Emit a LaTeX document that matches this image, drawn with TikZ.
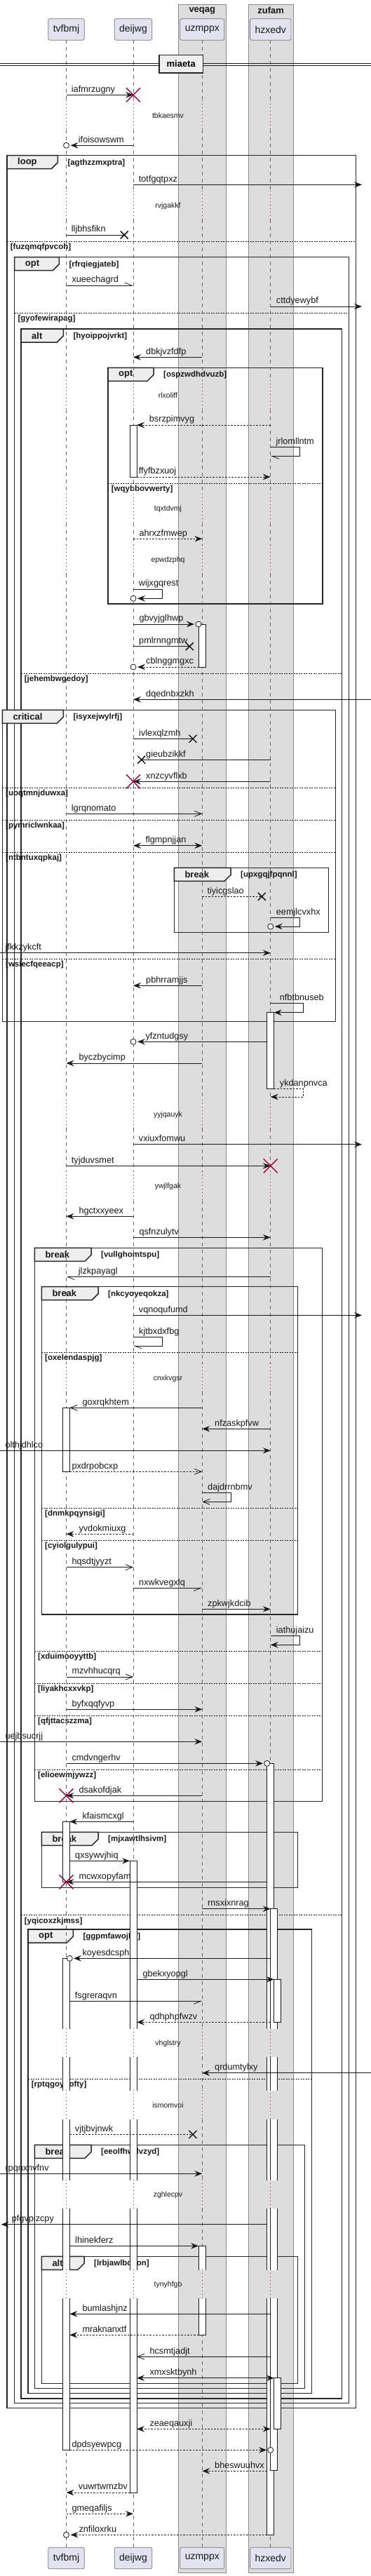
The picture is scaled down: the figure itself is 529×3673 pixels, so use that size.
\documentclass[tikz,border=0pt]{standalone}
\usepackage{fontspec}
\setmainfont{Liberation Sans}
\usepackage{xcolor}
\usetikzlibrary{arrows.meta}

\definecolor{ink}{HTML}{181818}
\definecolor{partfill}{HTML}{E2E2F0}
\definecolor{boxfill}{HTML}{DDDDDD}
\definecolor{tabfill}{HTML}{EEEEEE}
\definecolor{crimson}{HTML}{A80036}

\def\Tx{94.5}\def\Dx{190}\def\Ux{288.3}\def\Hx{385.7}

\newcommand\sdmsg[6]{\draw[msg,#1] (#2,#4) -- (#3,#4);
  \node[lbl] (#6) at (#5,#4-4.3) {#6};}
\newcommand\sdself[8]{\draw[msg,#1] (#2,#3) -| (#4,#5) -- (#6,#5);
  \node[lbl] (#8) at (#7,#3-4.3) {#8};}
\newcommand\sdframe[8]{\draw[frame] (#1,#2) rectangle (#3,#4);
  \draw[frame,fill=tabfill] (#1,#2) -- (#6,#2) -- (#6,#2+10) -- (#6-9,#2+19) -- (#1,#2+19) -- cycle;
  \node[kw] (#8) at (#1+15,#2+9.5) {#5};
  \node[grd] (#8g) at (#6+14,#2+10.5) {#7};}
\newcommand\sdelse[5]{\draw[divider] (#1,#3) -- (#2,#3);
  \node[grd] (#5) at (#1+4.7,#3+8.3) {#4};}
\newcommand\sdbar[3]{\draw[actbar] (#1,#2) rectangle (#1+10,#3);}
\newcommand\killx[2]{\draw[crimson,line width=1.4pt] (#1-10,#2-10) -- (#1+10,#2+10) (#1-10,#2+10) -- (#1+10,#2-10);}
\newcommand\lostx[2]{\draw[ink,line width=1.5pt] (#1-5.5,#2-5.5) -- ++(11,11) (#1-5.5,#2+5.5) -- ++(11,-11);}
\newcommand\ringend[2]{\draw[ink,fill=white,line width=0.8pt] (#1,#2) circle (4pt);}

\begin{document}
\begin{tikzpicture}[x=1pt,y=-1pt,
  part/.style={draw=black!55,fill=partfill,rounded corners=2.5pt,line width=0.7pt,
    minimum height=30.6pt,inner xsep=7pt,font=\fontsize{14}{16}\selectfont,text=ink},
  boxttl/.style={font=\bfseries\fontsize{13}{15}\selectfont,inner sep=0,text=ink},
  lifeline/.style={draw=black!60,line width=0.7pt,dash pattern=on 5pt off 5pt},
  delayline/.style={draw=crimson,line width=0.8pt,dash pattern=on 1pt off 4pt},
  frame/.style={draw=black!85,line width=1.5pt},
  divider/.style={draw=ink,line width=0.7pt,dash pattern=on 2pt off 1.5pt},
  kw/.style={font=\bfseries\fontsize{13}{15}\selectfont,inner sep=0,anchor=west,text=ink},
  grd/.style={font=\bfseries\fontsize{11.5}{13}\selectfont,inner sep=0,anchor=west,text=ink},
  lbl/.style={font=\fontsize{12.7}{14}\selectfont,inner sep=0,anchor=base west,text=ink},
  dly/.style={font=\fontsize{10.5}{12}\selectfont,inner sep=0,text=ink},
  actbar/.style={draw=ink,fill=white,line width=0.8pt},
  msg/.style={draw=ink,line width=0.8pt},
  dashmsg/.style={dash pattern=on 2.5pt off 2pt},
  sync/.style={-{Stealth[length=11pt,width=8.5pt,inset=4pt]}},
  both/.style={{Stealth[length=11pt,width=8.5pt,inset=4pt]}-{Stealth[length=11pt,width=8.5pt,inset=4pt]}},
  barb/.style={-{Straight Barb[length=10pt,width=8pt]}},
  halfl/.style={-{Straight Barb[length=10pt,width=8pt,left]}},
  halfr/.style={-{Straight Barb[length=10pt,width=8pt,right]}}]

\useasboundingbox (0,0) rectangle (529,3673);
\fill[white] (0,0) rectangle (529,3673);

% boxes
\filldraw[fill=boxfill,draw=black!45,line width=0.8pt] (254.3,6) rectangle (322.3,3668.3);
\filldraw[fill=boxfill,draw=black!45,line width=0.8pt] (354,6) rectangle (418.3,3668.3);
\node[boxttl] (veqag) at (288.3,15) {veqag};
\node[boxttl] (zufam) at (386.2,15) {zufam};

\node[part] (tvfbmj) at (\Tx,42) {tvfbmj};
\node[part] (deijwg) at (\Dx,42) {deijwg};
\node[part] (uzmppx) at (\Ux,42) {uzmppx};
\node[part] (hzxedv) at (\Hx,42) {hzxedv};
\node[part] (tvfbmjB) at (\Tx,3647.5) {tvfbmj};
\node[part] (deijwgB) at (\Dx,3647.5) {deijwg};
\node[part] (uzmppxB) at (\Ux,3647.5) {uzmppx};
\node[part] (hzxedvB) at (\Hx,3647.5) {hzxedv};

% groups
\sdframe{10}{221.7}{507.7}{3433.7}{loop}{82.3}{[agthzzmxptra]}{floop}
\sdelse{10}{507.7}{344}{[fuzqmqfpvcoh]}{eloop}
\sdframe{20.7}{366.7}{497.7}{3426.7}{opt}{84.3}{[rfrqiegjateb]}{fopt}
\sdelse{20.7}{497.7}{446}{[gyofewirapag]}{eopt}
\sdframe{30}{469}{487.7}{3420}{alt}{90.3}{[hyoippojvrkt]}{falt}
\sdelse{30}{487.7}{960.7}{[jehembwgedoy]}{ealtA}
\sdelse{30}{487.7}{2730.7}{[yqicoxzkjmss]}{ealtB}
\sdframe{154}{524.3}{460}{861}{opt}{219}{[ospzwdhdvuzb]}{foptB}
\sdelse{154}{460}{689.3}{[wqybbovwerty]}{eoptB}
\sdframe{3.3}{1012.3}{478.3}{1456.7}{critical}{90.3}{[isyxejwylrfj]}{fcrit}
\sdelse{3.3}{478.3}{1123.3}{[uoqtmnjduwxa]}{ecritA}
\sdelse{3.3}{478.3}{1169}{[pymriclwnkaa]}{ecritB}
\sdelse{3.3}{478.3}{1215.3}{[ntbntuxqpkaj]}{ecritC}
\sdelse{3.3}{478.3}{1367.3}{[wsiecfqeeacp]}{ecritD}
\sdframe{248.3}{1237.3}{468.3}{1329.3}{break}{329}{[upxgqjfpqnnl]}{fbrkA}
\sdframe{49.3}{1779.3}{459.3}{2568.3}{break}{130}{[vullghomtspu]}{fbrkB}
\sdelse{49.3}{459.3}{2354.3}{[xduimooyyttb]}{ebrkB}
\sdelse{49.3}{459.3}{2400.3}{[liyakhcxxvkp]}{ebrkC}
\sdelse{49.3}{459.3}{2446.3}{[qfjttacszzma]}{ebrkD}
\sdelse{49.3}{459.3}{2523.3}{[elioewmjywzz]}{ebrkE}
\sdframe{59.3}{1834.7}{424.3}{2302}{break}{140}{[nkcyoyeqokza]}{fbrkC}
\sdelse{59.3}{424.3}{1928}{[oxelendaspjg]}{ebrkF}
\sdelse{59.3}{424.3}{2150.3}{[dnmkpqynsigi]}{ebrkG}
\sdelse{59.3}{424.3}{2196.3}{[cyiolgulypui]}{ebrkH}
\sdframe{59.3}{2612.3}{424.3}{2691.7}{break}{140}{[mjxawtlhsivm]}{fbrkD}
\sdframe{40}{2751}{444.3}{3412.3}{opt}{104.3}{[ggpmfawojlef]}{foptC}
\sdelse{40}{444.3}{2964.3}{[rptqgoyqofty]}{eoptC}
\sdframe{49.3}{3058.3}{434.3}{3405.7}{break}{130}{[eeolfhwdvzyd]}{fbrkE}
\sdframe{59.3}{3217.3}{424.3}{3398.3}{alt}{120}{[lrbjawlbcqon]}{faltB}

% lifelines
\foreach \p in {tvfbmj,deijwg,uzmppx,hzxedv}{
  \foreach \a/\b in {57.3/143.3,185/271.7,313.3/542.3,584/704.3,746/776.7,818.3/1567.7,
      1609.3/1670,1711.7/1943.7,1985.3/2891.7,2933.3/2980,3021.7/3107.7,3149.3/3235.7,3277.3/3631.7}{
    \draw[lifeline] (\p |- 0,\a) -- (\p |- 0,\b);
  }
}

% divider
\draw[ink,line width=0.9pt] (0,90.7) -- (529,90.7) (0,93.3) -- (529,93.3);
\node[draw=black!85,line width=1.5pt,fill=tabfill,minimum width=62.3pt,minimum height=25.7pt,
  inner sep=0,font=\bfseries\fontsize{13}{15}\selectfont] (miaeta) at (258.2,91.2) {miaeta};

% activations
\sdbar{185}{606}{680}
\sdbar{283}{890}{951.7}
\sdbar{380.7}{1443.7}{1552.3}
\sdbar{89.3}{2007.3}{2098.3}
\sdbar{380.7}{2514.3}{3614.3}
\sdbar{89.3}{2597.3}{2683.3}
\sdbar{185}{2653.3}{3554}
\sdbar{385.7}{2721.7}{3522.7}
\sdbar{89.3}{2792.3}{3493.3}
\sdbar{390.7}{2822.3}{2883.3}
\sdbar{283}{3202.3}{3329.3}
\sdbar{390.7}{3390.7}{3463.3}

\foreach \a/\b in {2891.7/2933.3,2980/3021.7,3107.7/3149.3,3235.7/3277.3}{
  \fill[white] (88.5,\a+0.8) rectangle (100.1,\b);
  \fill[white] (184.2,\a+0.8) rectangle (195.8,\b);
  \fill[boxfill] (379.9,\a+0.8) rectangle (396.5,\b);
}
\fill[boxfill] (282.2,3236.5) rectangle (293.5,3277.3);

\foreach \p in {tvfbmj,deijwg,uzmppx,hzxedv}{
  \foreach \a/\b in {143.3/185,271.7/313.3,542.3/584,704.3/746,776.7/818.3,1567.7/1609.3,
      1670/1711.7,1943.7/1985.3,2891.7/2933.3,2980/3021.7,3107.7/3149.3,3235.7/3277.3}{
    \draw[delayline] (\p |- 0,\a) -- (\p |- 0,\b);
  }
}

% messages
\sdmsg{sync}{\Tx}{\Dx}{135.3}{101.7}{iafmrzugny}
\killx{\Dx}{135.3}
\sdmsg{sync}{\Dx}{\Tx+6}{207.3}{111.7}{ifoisowswm}
\ringend{\Tx}{207.3}
\sdmsg{sync}{\Dx}{516}{263.3}{197.7}{totfgqtpxz}
\sdmsg{}{\Tx}{177.3}{335}{101.7}{lljbhsfikn}
\lostx{177.3}{335}
\sdmsg{halfl}{\Tx}{\Dx}{407}{102.3}{xueechagrd}
\sdmsg{sync}{\Hx}{516}{437}{393.7}{cttdyewybf}
\sdmsg{sync}{\Ux}{\Dx}{509.3}{208}{dbkjvzfdfp}
\sdmsg{sync,dashmsg}{\Hx}{195}{606}{212.7}{bsrzpimvyg}
\sdself{halfl}{\Hx}{637.3}{427}{650.3}{\Hx}{393.3}{jrlomllntm}
\sdmsg{sync,dashmsg}{195}{\Hx}{680}{197.7}{ffyfbzxuoj}
\sdmsg{sync,dashmsg}{\Dx}{\Ux}{768.3}{198.3}{ahrxzfmwep}
\sdself{sync}{\Dx}{840}{231.7}{853.3}{\Dx+6}{197.7}{wijxgqrest}
\ringend{\Dx}{853.3}
\sdmsg{sync}{\Dx}{277}{890}{198.3}{gbvyjglhwp}
\ringend{283}{890}
\sdmsg{}{\Dx}{270.3}{921.7}{198}{pmlrnngmtw}
\lostx{270.3}{921.7}
\sdmsg{sync,dashmsg}{283}{\Dx+6}{951}{208}{cblnggmgxc}
\ringend{\Dx}{951}
\sdmsg{sync}{529}{\Dx}{997.3}{208}{dqednbxzkh}
\sdmsg{}{\Dx}{275}{1053.3}{198}{ivlexqlzmh}
\lostx{275}{1053.3}
\sdmsg{}{\Hx}{201.7}{1083.3}{208}{gieubzikkf}
\lostx{201.7}{1083.3}
\sdmsg{sync}{\Hx}{\Dx}{1114.3}{208}{xnzcyvflxb}
\killx{\Dx}{1114.3}
\sdmsg{barb}{\Tx}{\Ux}{1160.3}{101.7}{lgrqnomato}
\sdmsg{both}{\Dx}{\Ux}{1205.7}{207.3}{flgmpnjjan}
\sdmsg{dashmsg}{\Ux}{373.3}{1278.3}{295.3}{tiyicgslao}
\lostx{373.3}{1278.3}
\sdself{sync}{\Hx}{1308.7}{427}{1321}{\Hx+6}{393.7}{eemjlcvxhx}
\ringend{\Hx}{1321}
\sdmsg{sync}{0}{\Hx}{1358.7}{7.3}{jfkkzykcft}
\sdmsg{sync}{\Ux}{\Dx}{1405.3}{208}{pbhrramjjs}
\sdself{sync}{\Hx}{1430.3}{432.3}{1443.7}{390.7}{398.7}{nfbtbnuseb}
\sdmsg{sync}{380.7}{\Dx+6}{1485.3}{207.3}{yfzntudgsy}
\ringend{\Dx}{1485.3}
\sdmsg{sync}{\Ux}{\Tx}{1516}{112.3}{byczbycimp}
\sdself{sync,dashmsg}{390.7}{1552.3}{432.3}{1564}{\Hx}{398.7}{ykdanpnvca}
\sdmsg{sync}{\Dx}{516}{1631.7}{197.7}{vxiuxfomwu}
\sdmsg{sync}{\Tx}{\Hx}{1662.3}{101.7}{tyjduvsmet}
\killx{\Hx}{1662.3}
\sdmsg{sync}{\Dx}{\Tx}{1734.3}{112.3}{hgctxxyeex}
\sdmsg{sync}{\Dx}{\Hx}{1764.3}{198.3}{qsfnzulytv}
\sdmsg{halfl}{\Hx}{\Tx}{1820.7}{111.7}{jlzkpayagl}
\sdmsg{sync}{\Dx}{516}{1875.3}{197.7}{vqnoqufumd}
\sdself{halfl}{\Dx}{1906.7}{231.7}{1919}{\Dx}{198}{kjtbxdxfbg}
\sdmsg{barb}{\Ux}{99.3}{2007.3}{117.3}{goxrqkhtem}
\sdmsg{sync}{\Hx}{\Ux}{2037.3}{306}{nfzaskpfvw}
\sdmsg{sync}{0}{\Hx}{2068.3}{7.3}{olthjdhlco}
\sdmsg{barb,dashmsg}{99.3}{\Ux}{2098.3}{102.3}{pxdrpobcxp}
\sdself{barb}{\Ux}{2128.3}{329.3}{2141.3}{\Ux}{296}{dajdrrnbmv}
\sdmsg{sync,dashmsg}{\Dx}{\Tx}{2187.3}{112.3}{yvdokmiuxg}
\sdmsg{barb}{\Tx}{\Dx}{2234.7}{102.3}{hqsdtjyyzt}
\sdmsg{halfr}{\Dx}{\Ux}{2264.3}{198}{nxwkvegxlq}
\sdmsg{sync}{\Ux}{\Hx}{2294.3}{296}{zpkwjkdcib}
\sdself{sync}{\Hx}{2332.3}{427}{2345.3}{\Hx}{393.7}{iathujaizu}
\sdmsg{barb}{\Tx}{\Dx}{2391}{102.3}{mzvhhucqrq}
\sdmsg{sync}{\Tx}{\Ux}{2437.3}{102.3}{byfxqqfyvp}
\sdmsg{sync}{0}{\Ux}{2483.3}{7.3}{uejbsucrjj}
\sdmsg{sync}{\Tx}{375}{2514.3}{102.3}{cmdvngerhv}
\ringend{380.7}{2514.3}
\sdmsg{sync}{\Ux}{\Tx}{2560.3}{112.3}{dsakofdjak}
\killx{\Tx}{2560.3}
\sdmsg{sync}{\Dx}{99.3}{2597.3}{117.3}{kfaismcxgl}
\sdmsg{sync}{99.3}{185}{2653.3}{107}{qxsywvjhiq}
\sdmsg{sync}{380.7}{\Tx}{2683.3}{112.3}{mcwxopyfam}
\killx{\Tx}{2683.3}
\sdmsg{sync}{\Ux}{385.7}{2721.7}{296}{rnsxixnrag}
\sdmsg{sync}{385.7}{105}{2792.3}{117.3}{koyesdcsph}
\ringend{99.3}{2792.3}
\sdmsg{sync}{195}{390.7}{2822.3}{203.3}{gbekxyopgl}
\sdmsg{halfr}{99.3}{\Ux}{2853.3}{106.7}{fsgreraqvn}
\sdmsg{sync,dashmsg}{385.7}{195}{2883.3}{213.3}{qdhphpfwzv}
\sdmsg{sync}{529}{\Ux}{2955.7}{306}{qrdumtylxy}
\sdmsg{dashmsg}{99.3}{275}{3043.3}{106.7}{vjtjbvjnwk}
\lostx{275}{3043.3}
\sdmsg{sync}{0}{\Ux}{3099.3}{7.3}{rpqnxnvfnv}
\sdmsg{sync}{380.7}{1.7}{3171.7}{16.7}{pfgvpizcpy}
\sdmsg{sync}{99.3}{283}{3202.3}{107}{lhinekferz}
\sdmsg{sync}{385.7}{99.3}{3299.3}{117.3}{bumlashjnz}
\sdmsg{sync,dashmsg}{283}{99.3}{3329.3}{117.3}{mraknanxtf}
\sdmsg{barb}{385.7}{195}{3360.3}{213.3}{hcsmtjadjt}
\sdmsg{both}{195}{390.7}{3390.7}{213.3}{xmxsktbynh}
\sdmsg{both,dashmsg}{195}{385.7}{3463.3}{213.3}{zeaeqauxji}
\sdmsg{sync,dashmsg}{99.3}{380}{3493.3}{102.3}{dpdsyewpcg}
\ringend{\Hx}{3493.3}
\sdmsg{sync,dashmsg}{380.7}{\Ux}{3523.3}{306}{bheswuuhvx}
\sdmsg{sync,dashmsg}{185}{\Tx}{3554}{111.7}{vuwrtwmzbv}
\sdmsg{sync,dashmsg}{\Tx}{\Dx}{3584.3}{102.3}{gmeqafiljs}
\sdmsg{sync,dashmsg}{380.7}{\Tx+6}{3614.3}{112.3}{znfiloxrku}
\ringend{\Tx}{3614.3}

% delays
\node[dly] (tbkaesmv) at (239.5,165) {tbkaesmv};
\node[dly] (rvjgakkf) at (239.5,293.3) {rvjgakkf};
\node[dly] (rlxoliff) at (239.5,564) {rlxoliff};
\node[dly] (tqxtdvmj) at (239.5,726) {tqxtdvmj};
\node[dly] (epwdzphq) at (239.5,798.3) {epwdzphq};
\node[dly] (yyjqauyk) at (239.5,1589.3) {yyjqauyk};
\node[dly] (ywjlfgak) at (239.5,1691.7) {ywjlfgak};
\node[dly] (cnxkvgsr) at (239.5,1965.3) {cnxkvgsr};
\node[dly] (vhglstry) at (239.5,2913.3) {vhglstry};
\node[dly] (ismomvoi) at (239.5,3001.7) {ismomvoi};
\node[dly] (zghlecpv) at (239.5,3129.3) {zghlecpv};
\node[dly] (tynyhfgb) at (239.5,3257.3) {tynyhfgb};

\end{tikzpicture}
\end{document}
